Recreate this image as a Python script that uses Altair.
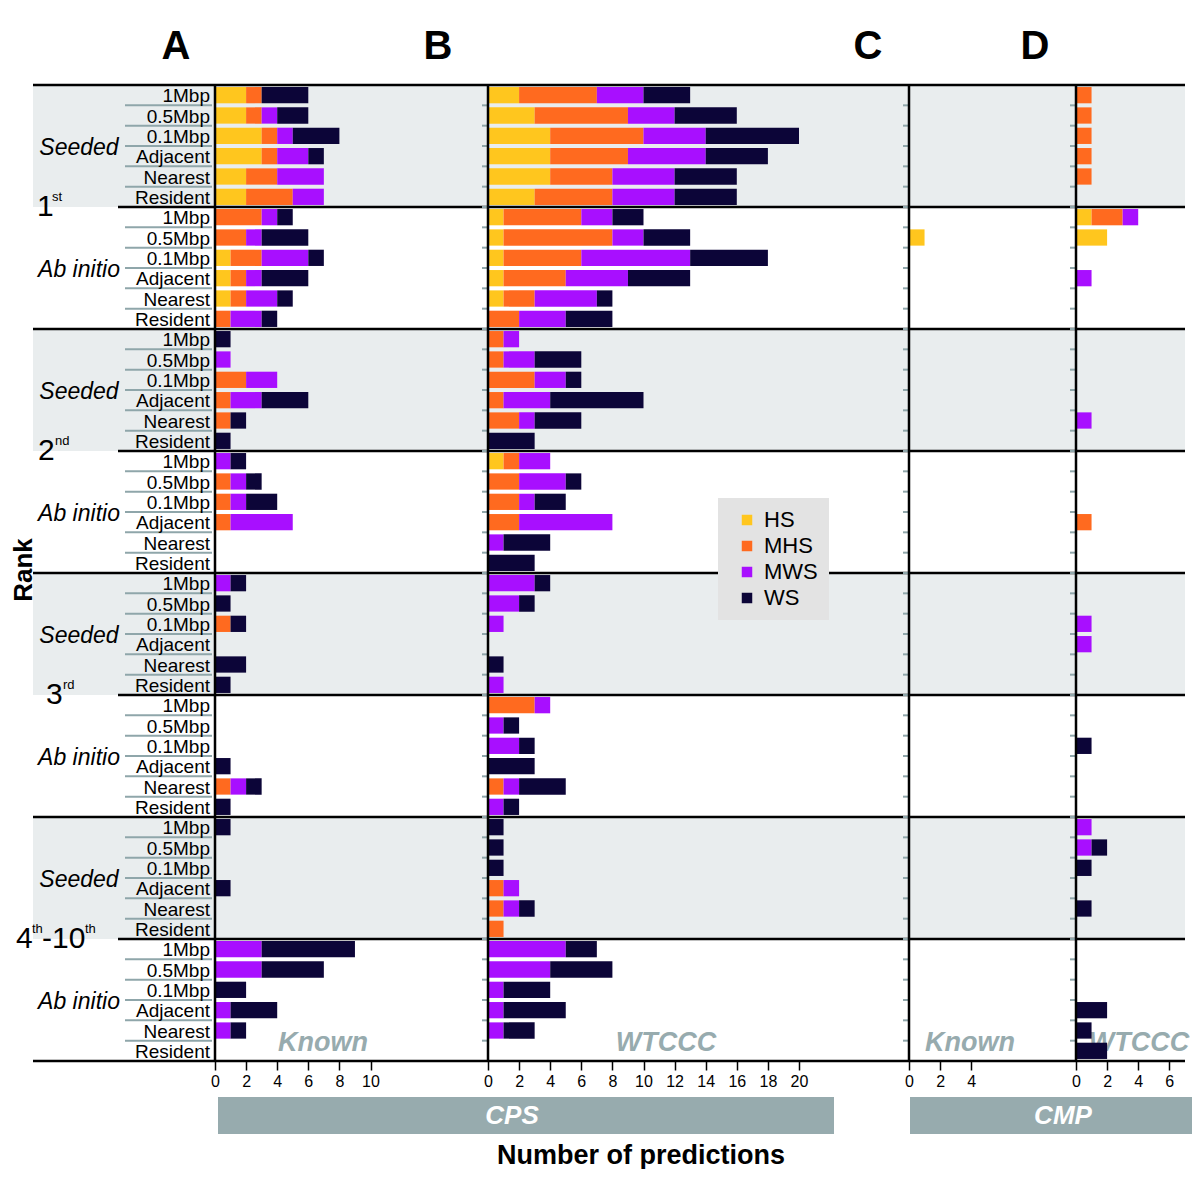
import altair as alt
import pandas as pd

# ---------------- data ----------------
methods = ["1Mbp", "0.5Mbp", "0.1Mbp", "Adjacent", "Nearest", "Resident"]
modes = ["Seeded", "Ab initio"]
ranks = ["1st", "2nd", "3rd", "4th-10th"]
classes = ["HS", "MHS", "MWS", "WS"]
colors = ["#FFC61E", "#FF6A1F", "#A80FFF", "#0C0538"]

# row order: rank -> (Seeded, Ab initio) -> methods
# Panel A: CPS, Known
A_HS = [2, 2, 3, 3, 2, 2,  0, 0, 1, 1, 1, 0,
        0, 0, 0, 0, 0, 0,  0, 0, 0, 0, 0, 0,
        0, 0, 0, 0, 0, 0,  0, 0, 0, 0, 0, 0,
        0, 0, 0, 0, 0, 0,  0, 0, 0, 0, 0, 0]
A_MHS = [1, 1, 1, 1, 2, 3,  3, 2, 2, 1, 1, 1,
         0, 0, 2, 1, 1, 0,  0, 1, 1, 1, 0, 0,
         0, 0, 1, 0, 0, 0,  0, 0, 0, 0, 1, 0,
         0, 0, 0, 0, 0, 0,  0, 0, 0, 0, 0, 0]
A_MWS = [0, 1, 1, 2, 3, 2,  1, 1, 3, 1, 2, 2,
         0, 1, 2, 2, 0, 0,  1, 1, 1, 4, 0, 0,
         1, 0, 0, 0, 0, 0,  0, 0, 0, 0, 1, 0,
         0, 0, 0, 0, 0, 0,  3, 3, 0, 1, 1, 0]
A_WS = [3, 2, 3, 1, 0, 0,  1, 3, 1, 3, 1, 1,
        1, 0, 0, 3, 1, 1,  1, 1, 2, 0, 0, 0,
        1, 1, 1, 0, 2, 1,  0, 0, 0, 1, 1, 1,
        1, 0, 0, 1, 0, 0,  6, 4, 2, 3, 1, 0]

# Panel B: CPS, WTCCC
B_HS = [2, 3, 4, 4, 4, 3,  1, 1, 1, 1, 1, 0,
        0, 0, 0, 0, 0, 0,  1, 0, 0, 0, 0, 0,
        0, 0, 0, 0, 0, 0,  0, 0, 0, 0, 0, 0,
        0, 0, 0, 0, 0, 0,  0, 0, 0, 0, 0, 0]
B_MHS = [5, 6, 6, 5, 4, 5,  5, 7, 5, 4, 2, 2,
         1, 1, 3, 1, 2, 0,  1, 2, 2, 2, 0, 0,
         0, 0, 0, 0, 0, 0,  3, 0, 0, 0, 1, 0,
         0, 0, 0, 1, 1, 1,  0, 0, 0, 0, 0, 0]
B_MWS = [3, 3, 4, 5, 4, 4,  2, 2, 7, 4, 4, 3,
         1, 2, 2, 3, 1, 0,  2, 3, 1, 6, 1, 0,
         3, 2, 1, 0, 0, 1,  1, 1, 2, 0, 1, 1,
         0, 0, 0, 1, 1, 0,  5, 4, 1, 1, 1, 0]
B_WS = [3, 4, 6, 4, 4, 4,  2, 3, 5, 4, 1, 3,
        0, 3, 1, 6, 3, 3,  0, 1, 2, 0, 3, 3,
        1, 1, 0, 0, 1, 0,  0, 1, 1, 3, 3, 1,
        1, 1, 1, 0, 1, 0,  2, 4, 3, 4, 2, 0]

# Panel C: CMP, Known
C_HS = [0, 0, 0, 0, 0, 0,  0, 1, 0, 0, 0, 0] + [0] * 36
C_MHS = [0] * 48
C_MWS = [0] * 48
C_WS = [0] * 48

# Panel D: CMP, WTCCC
D_HS = [0, 0, 0, 0, 0, 0,  1, 2, 0, 0, 0, 0,
        0, 0, 0, 0, 0, 0,  0, 0, 0, 0, 0, 0,
        0, 0, 0, 0, 0, 0,  0, 0, 0, 0, 0, 0,
        0, 0, 0, 0, 0, 0,  0, 0, 0, 0, 0, 0]
D_MHS = [1, 1, 1, 1, 1, 0,  2, 0, 0, 0, 0, 0,
         0, 0, 0, 0, 0, 0,  0, 0, 0, 1, 0, 0,
         0, 0, 0, 0, 0, 0,  0, 0, 0, 0, 0, 0,
         0, 0, 0, 0, 0, 0,  0, 0, 0, 0, 0, 0]
D_MWS = [0, 0, 0, 0, 0, 0,  1, 0, 0, 1, 0, 0,
         0, 0, 0, 0, 1, 0,  0, 0, 0, 0, 0, 0,
         0, 0, 1, 1, 0, 0,  0, 0, 0, 0, 0, 0,
         1, 1, 0, 0, 0, 0,  0, 0, 0, 0, 0, 0]
D_WS = [0, 0, 0, 0, 0, 0,  0, 0, 0, 0, 0, 0,
        0, 0, 0, 0, 0, 0,  0, 0, 0, 0, 0, 0,
        0, 0, 0, 0, 0, 0,  0, 0, 1, 0, 0, 0,
        0, 1, 1, 0, 1, 0,  0, 0, 0, 2, 1, 2]

A_ticks = [0, 2, 4, 6, 8, 10]
B_ticks = list(range(0, 21, 2))
C_ticks = [0, 2, 4]
D_ticks = [0, 2, 4, 6]

# ---------------- styling ----------------
FONT = "Liberation Sans, Arial, Helvetica, sans-serif"
BAND = "#E9EDEE"
SLATE = "#8FA6AA"
BARGREY = "#97ABAE"
PX = 15.55          # pixels per prediction
H = 976             # plot height (48 rows)
NROWS = 48
NOVIEW = alt.ViewBackground(strokeWidth=0, strokeOpacity=0)

yscale = alt.Scale(domain=[0, NROWS], reverse=True, nice=False, zero=False)

rank_bounds = pd.DataFrame({"b": [0, 12, 24, 36, 48]})
group_bounds = pd.DataFrame({"b": [6, 18, 30, 42]})
bands = pd.DataFrame({"b0": [0, 12, 24, 36], "b1": [6, 18, 30, 42]})
all_bounds = pd.DataFrame({"b": list(range(1, NROWS))})


def stacked(series):
    recs = []
    for r in range(NROWS):
        start = 0
        for cls, vals in zip(classes, series):
            v = vals[r]
            if v > 0:
                recs.append({"row": r, "cls": cls, "x0": start, "x1": start + v,
                             "y0": r + 0.1, "y1": r + 0.9, "n": v})
                start += v
    return pd.DataFrame(recs)


def band_layer(w, x0=0):
    return alt.Chart(bands).mark_rect(color=BAND).encode(
        x=alt.value(x0), x2=alt.value(w),
        y=alt.Y("b0:Q", scale=yscale, axis=None), y2="b1:Q")


def rule_layer(df, w, x0=0, color="black", width=2.5):
    return alt.Chart(df).mark_rule(color=color, strokeWidth=width).encode(
        x=alt.value(x0), x2=alt.value(w),
        y=alt.Y("b:Q", scale=yscale, axis=None))


def text_layer(txt, x, y, size, color="black", weight="normal", style="normal",
               align="center", angle=0):
    kw = dict(fontSize=size, color=color, fontWeight=weight, fontStyle=style,
              align=align, baseline="middle", font=FONT)
    if angle:
        kw["angle"] = angle
    return alt.Chart(pd.DataFrame({"t": [txt]})).mark_text(**kw).encode(
        x=alt.value(x), y=alt.value(y), text="t:N")


def axis_line():
    return alt.Chart(pd.DataFrame({"a": [0]})).mark_rule(
        color="black", strokeWidth=2.5).encode(
        x=alt.value(0), y=alt.value(0), y2=alt.value(H))


def bar_panel(series, w, ticks, tag, tag_x, show_ticks=True, legend=False,
              extra_front=()):
    df = stacked(series)
    dmax = w / PX
    if legend:
        leg = alt.Legend(title=None, orient="none", legendX=230, legendY=413,
                         fillColor="#E3E3E3", padding=11, symbolType="square",
                         symbolSize=110, symbolStrokeWidth=0, labelFontSize=22,
                         labelFont=FONT, rowPadding=4, symbolOffset=7,
                         labelOffset=6, labelColor="black")
    else:
        leg = None
    xaxis = alt.Axis(values=ticks, title=None, grid=False, domain=False,
                     tickColor="black", tickWidth=1.5, tickSize=9, labelPadding=3,
                     labelFontSize=16, labelFont=FONT, labelColor="black",
                     format="d", labelFlush=False)
    bars = alt.Chart(df).mark_rect().encode(
        x=alt.X("x0:Q", scale=alt.Scale(domain=[0, dmax], nice=False, zero=True),
                axis=xaxis),
        x2="x1:Q",
        y=alt.Y("y0:Q", scale=yscale, axis=None),
        y2="y1:Q",
        color=alt.Color("cls:N", scale=alt.Scale(domain=classes, range=colors),
                        legend=leg),
        tooltip=["cls:N", "n:Q"],
    )
    tagl = text_layer(tag, tag_x, 958, 27, color=BARGREY, weight="bold", style="italic")
    layers = [band_layer(w), tagl, bars, rule_layer(rank_bounds, w),
              rule_layer(group_bounds, w)]
    if show_ticks:
        layers.append(rule_layer(all_bounds, 0, -6, color=SLATE, width=2))
    layers.append(axis_line())
    layers += list(extra_front)
    return alt.layer(*layers).properties(width=w, height=H, view=NOVIEW)


# ---------------- label panel ----------------
LW = 207
lab_rows = pd.DataFrame({
    "m": [methods[i % 6] for i in range(NROWS)],
    "yc": [i + 0.5 for i in range(NROWS)],
})
underlines = pd.DataFrame({"b": [k for k in range(1, NROWS) if k % 6 != 0]})
mode_df = pd.DataFrame({
    "t": [modes[g % 2] for g in range(8)],
    "yc": [g * 6 + 3 for g in range(8)],
})
rank_main = pd.DataFrame({
    "t": ["1", "2", "3", "4", "-10"],
    "xp": [29, 30, 38, 8, 34],
    "b": [6, 18, 30, 42, 42],
})
rank_sup = pd.DataFrame({
    "t": ["st", "nd", "rd", "th", "th"],
    "xp": [44, 47, 55, 24, 77],
    "b": [6, 18, 30, 42, 42],
})

label_layers = [
    band_layer(LW, 25),
    rule_layer(underlines, 204, 117, color=SLATE, width=2),
    rule_layer(rank_bounds, LW, 25),
    rule_layer(group_bounds, LW, 110),
    alt.Chart(lab_rows).mark_text(align="right", baseline="middle", fontSize=19,
                                  font=FONT, color="black", dy=1).encode(
        x=alt.value(202), y=alt.Y("yc:Q", scale=yscale, axis=None), text="m:N"),
    alt.Chart(mode_df).mark_text(align="center", baseline="middle", fontSize=23,
                                 fontStyle="italic", font=FONT, color="black",
                                 dy=2).encode(
        x=alt.value(71), y=alt.Y("yc:Q", scale=yscale, axis=None), text="t:N"),
    alt.Chart(rank_main).mark_text(align="left", baseline="middle", fontSize=30,
                                   font=FONT, color="black").encode(
        x=alt.X("xp:Q", scale=None), y=alt.Y("b:Q", scale=yscale, axis=None),
        text="t:N"),
    alt.Chart(rank_sup).mark_text(align="left", baseline="middle", fontSize=13,
                                  font=FONT, color="black", dy=-10).encode(
        x=alt.X("xp:Q", scale=None), y=alt.Y("b:Q", scale=yscale, axis=None),
        text="t:N"),
    text_layer("Rank", 16, 485, 26, weight="bold", angle=270),
    text_layer("A", 168, -38, 40, weight="bold"),
]
label_panel = alt.layer(*label_layers).properties(width=LW, height=H, view=NOVIEW)

# ---------------- bar panels ----------------
WA, WB, WC, WD = 273, 421, 167, 109

panel_A = bar_panel([A_HS, A_MHS, A_MWS, A_WS], WA, A_ticks, "Known", 108,
                    show_ticks=False,
                    extra_front=[text_layer("B", 223, -38, 40, weight="bold")])

cps_rect = alt.Chart(pd.DataFrame({"t": ["CPS"]})).mark_rect(color=BARGREY).encode(
    x=alt.value(-270), x2=alt.value(346), y=alt.value(1012), y2=alt.value(1049))
panel_B = bar_panel([B_HS, B_MHS, B_MWS, B_WS], WB, B_ticks, "WTCCC", 178,
                    legend=True,
                    extra_front=[cps_rect,
                                 text_layer("CPS", 24, 1031, 26, color="white",
                                            weight="bold", style="italic"),
                                 text_layer("Number of predictions", 153, 1071, 27,
                                            weight="bold"),
                                 text_layer("C", 380, -38, 40, weight="bold")])

panel_C = bar_panel([C_HS, C_MHS, C_MWS, C_WS], WC, C_ticks, "Known", 61,
                    extra_front=[text_layer("D", 126, -38, 40, weight="bold")])

cmp_rect = alt.Chart(pd.DataFrame({"t": ["CMP"]})).mark_rect(color=BARGREY).encode(
    x=alt.value(-166), x2=alt.value(116), y=alt.value(1012), y2=alt.value(1049))
panel_D = bar_panel([D_HS, D_MHS, D_MWS, D_WS], WD, D_ticks, "WTCCC", 63,
                    extra_front=[cmp_rect,
                                 text_layer("CMP", -13, 1031, 26, color="white",
                                            weight="bold", style="italic")])

chart = alt.hconcat(label_panel, panel_A, panel_B, panel_C, panel_D,
                    spacing=0, bounds="flush").properties(
    padding={"left": 0, "top": 19, "right": 0, "bottom": 0}
).resolve_legend(color="independent").configure_view(
    strokeWidth=0, strokeOpacity=0).configure(font=FONT)

chart.save("out.html", embed_options={"renderer": "svg", "actions": False})
